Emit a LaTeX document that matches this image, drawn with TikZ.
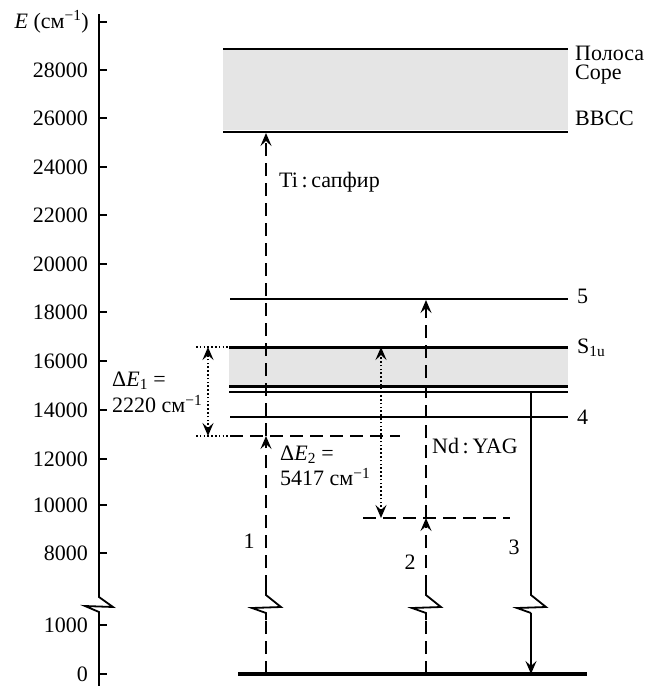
\documentclass[tikz,border=0pt]{standalone}
\usepackage{fontspec}
\setmainfont{Liberation Serif}
\usetikzlibrary{arrows.meta}
\begin{document}
\begin{tikzpicture}[x=1pt,y=-1pt,
  font=\fontsize{22}{25}\selectfont,
  lvl/.style={line width=1.8pt},
  lvlthick/.style={line width=3pt},
  dsh/.style={line width=1.8pt, dash pattern=on 13pt off 7pt},
  dotl/.style={line width=2.2pt, dash pattern=on 1.6pt off 2.2pt},
  zig/.style={line width=1.8pt, line join=miter},
  tipup/.style={-{Stealth[length=13pt,width=11pt,inset=5pt]}},
  tipboth/.style={{Stealth[length=13pt,width=11pt,inset=5pt]}-{Stealth[length=13pt,width=11pt,inset=5pt]}},
  lab/.style={inner sep=0pt},
  bandfill/.style={fill=gray!20, draw=none}]
\useasboundingbox (0,0) rectangle (649,686);

% axis
\coordinate (axT) at (99,14);
\coordinate (axB1) at (99,597);
\coordinate (axB2) at (99,612);
\coordinate (axB) at (99,686);
\draw[zig] (axT) -- (axB1) -- ++(14,10) -- ++(-28,-1) -- (axB2) -- (axB);
\foreach \yy/\ll in {70/28000,118/26000,167/24000,215/22000,264/20000,312/18000,361/16000,410/14000,459/12000,505/10000,553/8000,625/1000,674/0}{
  \draw[lvl] (99,\yy) -- (107,\yy);
  \node[lab, anchor=east] (t\ll) at (88,\yy) {\ll};
}
\draw[lvl] (99,22) -- (107,22);
\node[lab, anchor=east] (Elab) at (89,22) {\textit{E} (см\textsuperscript{−1})};

% upper band (Sore / BBCC)
\fill[bandfill] (223,49) rectangle (568,130);
\coordinate (bt1) at (223,49); \coordinate (bt2) at (568,49);
\coordinate (bb1) at (223,132); \coordinate (bb2) at (568,132);
\draw[lvl] (bt1) -- (bt2);
\draw[lvl] (bb1) -- (bb2);
\node[lab, anchor=west] (pol) at (575,53) {Полоса};
\node[lab, anchor=west] (sor) at (575,75) {Соре};
\node[lab, anchor=west] (bbcc) at (575,118) {ВВСС};

% level 5
\coordinate (l5a) at (230,299); \coordinate (l5b) at (568,299);
\draw[lvl] (l5a) -- (l5b);
\node[lab, anchor=west] (n5) at (577,296) {5};

% S1u band
\fill[bandfill] (229,347) rectangle (568,386);
\coordinate (s1a) at (229,347); \coordinate (s1b) at (568,347);
\coordinate (s2a) at (229,386.5); \coordinate (s2b) at (568,386.5);
\coordinate (s3a) at (229,392); \coordinate (s3b) at (568,392);
\draw[lvlthick] (s1a) -- (s1b);
\draw[line width=3.4pt] (s2a) -- (s2b);
\draw[lvl] (s3a) -- (s3b);
\node[lab, anchor=west] (ns) at (577,348) {S\textsubscript{1u}};

% level 4
\coordinate (l4a) at (230,417); \coordinate (l4b) at (568,417);
\draw[lvl] (l4a) -- (l4b);
\node[lab, anchor=west] (n4) at (577,417) {4};

% virtual level 1 and Delta E1
\coordinate (d1t) at (196,347);
\coordinate (d1b) at (196,436);
\coordinate (v1a) at (230,436);
\coordinate (v1b) at (400,436);
\draw[dotl] (d1t) -- (s1a);
\draw[dotl] (d1b) -- (v1a);
\draw[dsh] (v1a) -- (v1b);
\coordinate (e1t) at (208,347);
\coordinate (e1b) at (208,436);
\draw[dotl, tipboth] (e1b) -- (e1t);
\node[lab, anchor=west] (de1a) at (112,381) {Δ\textit{E}\textsubscript{1} =};
\node[lab, anchor=west] (de1b) at (112,404) {2220 см\textsuperscript{−1}};

% virtual level 2 and Delta E2
\coordinate (v2a) at (363,518);
\coordinate (v2b) at (510,518);
\draw[dsh] (v2a) -- (v2b);
\coordinate (e2t) at (381,347);
\coordinate (e2b) at (381,518);
\draw[dotl, tipboth] (e2b) -- (e2t);
\node[lab, anchor=west] (de2a) at (280,455) {Δ\textit{E}\textsubscript{2} =};
\node[lab, anchor=west] (de2b) at (280,477) {5417 см\textsuperscript{−1}};

% ground
\coordinate (g1) at (238,674); \coordinate (g2) at (587,674);
\draw[line width=4pt] (g1) -- (g2);

% arrow 1
\coordinate (a1g) at (266,674);
\coordinate (a1z1) at (266,620);
\coordinate (a1z2) at (266,588);
\coordinate (a1v) at (266,436);
\coordinate (a1t) at (266,133);
\draw[dsh] (a1g) -- (a1z1);
\draw[zig] (a1z1) -- (266,613) -- ++(-14,-5) -- ++(29,-1) -- (266,595) -- (a1z2);
\draw[dsh, tipup] (a1z2) -- (a1v);
\draw[dsh, tipup] (a1v) -- (a1t);
\node[lab] (n1) at (249,541) {1};
\node[lab, anchor=west] (tis) at (279,182) {Ti\,:\,сапфир};

% arrow 2
\coordinate (a2g) at (426,674);
\coordinate (a2z1) at (426,620);
\coordinate (a2z2) at (426,588);
\coordinate (a2v) at (426,518);
\coordinate (a2t) at (426,300);
\draw[dsh] (a2g) -- (a2z1);
\draw[zig] (a2z1) -- (426,613) -- ++(-14,-5) -- ++(29,-1) -- (426,595) -- (a2z2);
\draw[dsh, tipup] (a2z2) -- (a2v);
\draw[dsh, tipup] (a2v) -- (a2t);
\node[lab] (n2) at (410,562) {2};
\node[lab, anchor=west] (ndy) at (432,446) {Nd\,:\,YAG};

% arrow 3
\coordinate (a3s) at (531,392);
\coordinate (a3z) at (531,613);
\coordinate (a3g) at (531,674);
\draw[zig] (a3s) -- (531,595) -- ++(15,12) -- ++(-29,1) -- (a3z);
\draw[lvl, tipup] (a3z) -- (a3g);
\node[lab] (n3) at (514,547) {3};
\end{tikzpicture}
\end{document}
